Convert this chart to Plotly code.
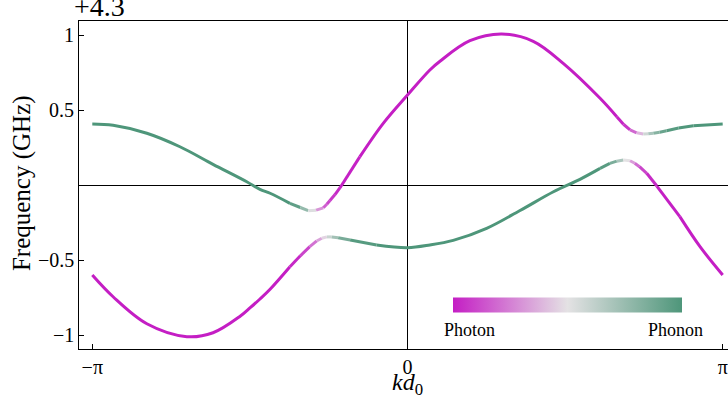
import plotly.graph_objects as go

# wavevector k*d0 in units of pi, frequency offset from 4.3 GHz, photon fraction
upper_k = [-1.0, -0.934, -0.827, -0.722, -0.617, -0.510, -0.468, -0.436, -0.373, -0.340,
           -0.315, -0.290, -0.267, -0.256, -0.246, -0.230, -0.214, -0.151, -0.077, 0.0,
           0.071, 0.103, 0.198, 0.299, 0.399, 0.494, 0.611, 0.664, 0.685, 0.706,
           0.727, 0.748, 0.764, 0.780, 0.800, 0.822, 0.860, 0.907, 1.0]
upper_f = [0.407, 0.398, 0.345, 0.255, 0.138, 0.022, -0.029, -0.055, -0.122, -0.150,
           -0.171, -0.168, -0.152, -0.128, -0.103, -0.064, -0.018, 0.189, 0.411, 0.600,
           0.767, 0.825, 0.962, 1.007, 0.958, 0.811, 0.578, 0.455, 0.405, 0.367,
           0.348, 0.340, 0.341, 0.345, 0.352, 0.362, 0.380, 0.395, 0.407]
upper_photon = [0, 0, 0, 0, 0, 0, 0, 0, 0, 0.12,
                0.35, 0.6, 0.8, 0.87, 0.92, 0.96, 0.98, 1, 1, 1,
                1, 1, 1, 1, 1, 1, 1, 1, 0.97, 0.9,
                0.72, 0.5, 0.36, 0.25, 0.13, 0.05, 0.01, 0, 0]

lower_k = [-1.0, -0.934, -0.827, -0.700, -0.617, -0.531, -0.499, -0.468, -0.436, -0.373,
           -0.340, -0.310, -0.288, -0.272, -0.256, -0.240, -0.220, -0.182, -0.098, 0.0,
           0.071, 0.145, 0.251, 0.357, 0.463, 0.547, 0.611, 0.642, 0.664, 0.685,
           0.706, 0.721, 0.736, 0.759, 0.791, 0.864, 0.928, 1.0]
lower_f = [-0.600, -0.745, -0.925, -1.011, -0.985, -0.875, -0.818, -0.760, -0.695, -0.545,
           -0.472, -0.411, -0.373, -0.355, -0.346, -0.346, -0.352, -0.367, -0.400, -0.418,
           -0.400, -0.369, -0.289, -0.170, -0.045, 0.038, 0.111, 0.144, 0.159, 0.167,
           0.162, 0.145, 0.122, 0.078, -0.007, -0.211, -0.411, -0.600]
lower_photon = [1, 1, 1, 1, 1, 1, 1, 1, 1, 1,
                0.95, 0.85, 0.72, 0.6, 0.47, 0.35, 0.22, 0.06, 0, 0,
                0, 0, 0, 0, 0, 0, 0, 0.08, 0.22, 0.4,
                0.6, 0.75, 0.85, 0.95, 0.99, 1, 1, 1]

x_ticks = [-1, 0, 1]
x_labels = ['\u2212\u03c0', '0', '\u03c0']
y_ticks = [-1, -0.5, 0.5, 1]
y_labels = ['\u22121', '\u22120.5', '0.5', '1']

MAGENTA = (196, 30, 196)
MID = (228, 226, 228)
GREEN = (78, 150, 122)
FONT = 'Liberation Serif, Times New Roman, serif'


def mix(photon):
    t = 1 - photon
    if t <= 0.5:
        a, b, s = MAGENTA, MID, t / 0.5
    else:
        a, b, s = MID, GREEN, (t - 0.5) / 0.5
    return 'rgb(%d,%d,%d)' % tuple(round(a[i] + (b[i] - a[i]) * s) for i in range(3))


fig = go.Figure()


def add_band(k, f, photon):
    # consecutive segments with the same colour are merged into one spline trace
    cols = [mix((photon[i] + photon[i + 1]) / 2) for i in range(len(k) - 1)]
    start = 0
    for i in range(1, len(cols) + 1):
        if i == len(cols) or cols[i] != cols[start]:
            fig.add_trace(go.Scatter(x=k[start:i + 1], y=f[start:i + 1], mode='lines',
                                     line=dict(color=cols[start], width=3, shape='spline'),
                                     hoverinfo='skip', showlegend=False))
            start = i


add_band(upper_k, upper_f, upper_photon)
add_band(lower_k, lower_f, lower_photon)

# photon/phonon colour key
fig.add_trace(go.Scatter(
    x=[0], y=[5], mode='markers', showlegend=False, hoverinfo='skip',
    marker=dict(color=[0], cmin=0, cmax=1, showscale=True,
                colorscale=[[0, 'rgb(%d,%d,%d)' % MAGENTA], [0.5, 'rgb(%d,%d,%d)' % MID],
                            [1, 'rgb(%d,%d,%d)' % GREEN]],
                colorbar=dict(orientation='h', x=0.7527, y=0.1341, xanchor='center', yanchor='middle',
                              lenmode='pixels', len=229, thickness=15, outlinewidth=0,
                              xpad=0, ypad=0, ticks='', showticklabels=False))))

annotations = [
    dict(text='+4.3', xref='paper', yref='paper', x=-0.0108, y=1.043,
         xanchor='left', yanchor='middle', showarrow=False, font=dict(size=28)),
    dict(text='Frequency (GHz)', xref='paper', yref='paper', x=-0.0878, y=0.506,
         xanchor='center', yanchor='middle', textangle=-90, showarrow=False,
         font=dict(size=25)),
    dict(text='<i>kd</i><sub>0</sub>', xref='paper', yref='paper', x=0.5054, y=-0.106,
         xanchor='center', yanchor='middle', showarrow=False, font=dict(size=24)),
    dict(text='Photon', xref='paper', yref='paper', x=(469 - 79) / 649, y=(349 - 330) / 328,
         xanchor='center', yanchor='middle', showarrow=False, font=dict(size=18)),
    dict(text='Phonon', xref='paper', yref='paper', x=(675 - 79) / 649, y=(349 - 330) / 328,
         xanchor='center', yanchor='middle', showarrow=False, font=dict(size=18)),
]
# y tick labels sit close to the frame, so place them by hand
for val, lab in zip(y_ticks, y_labels):
    annotations.append(dict(text=lab, xref='paper', yref='y', x=-0.0046, y=val,
                            xanchor='right', yanchor='middle', showarrow=False,
                            font=dict(size=20)))

fig.update_layout(
    width=728, height=404,
    margin=dict(l=79, r=0, t=21, b=55),
    plot_bgcolor='white', paper_bgcolor='white',
    font=dict(family=FONT, color='black', size=20),
    xaxis=dict(range=[-1.0422, 1.0168], tickvals=x_ticks, ticktext=x_labels,
               showline=True, mirror=True, linecolor='black', linewidth=1.3,
               ticks='inside', ticklen=5, tickwidth=1.2, tickcolor='black',
               showgrid=False, zeroline=True, zerolinecolor='black', zerolinewidth=1.2,
               ticklabeloverflow='allow', tickfont=dict(size=20)),
    yaxis=dict(range=[-1.0933, 1.0933], tickvals=y_ticks, showticklabels=False,
               showline=True, linecolor='black', linewidth=1.3,
               ticks='inside', ticklen=5, tickwidth=1.2, tickcolor='black',
               showgrid=False, zeroline=True, zerolinecolor='black', zerolinewidth=1.2),
    annotations=annotations,
)

# the page body has a default 8px margin; drop it so the figure sits at the window corner
fig.write_html('out.html', config={'displayModeBar': False},
               post_script="document.body.style.margin='0';")
